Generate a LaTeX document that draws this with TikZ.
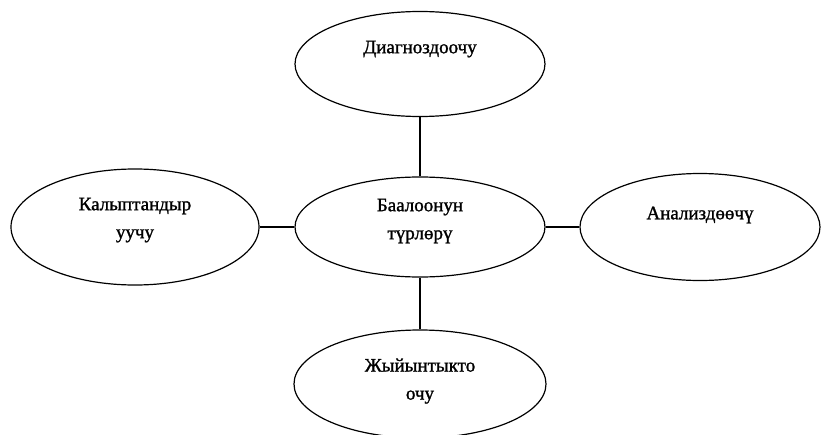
\documentclass[tikz,border=0pt]{standalone}
\usepackage{fontspec}
\setmainfont{Liberation Serif}[FakeBold=1.3]
\usetikzlibrary{shapes,arrows}
\tikzstyle{bubble} = [ellipse, draw, line width=1.2pt, inner sep=0pt,
    align=center, font=\fontsize{19}{28}\selectfont]
\tikzstyle{line} = [draw, line width=1.2pt]

\begin{document}
\begin{tikzpicture}[x=1pt, y=1pt, node distance = 160pt, auto]
  \useasboundingbox (-420,227) rectangle (401,-207);
    % Place nodes
    \node [bubble, minimum width=250pt, minimum height=100pt] (types) {Баалоонун\\түрлөрү\\[-12pt]~};
    \node [bubble, above of=types, node distance=163pt, minimum width=250pt, minimum height=105pt] (diag) {Диагноздоочу\\[6pt]~};
    \node [bubble, left of=types, node distance=285pt, minimum width=248pt, minimum height=116pt] (norm) {Калыптандыр\\уучу\\[-10pt]~};
    \node [bubble, right of=types, node distance=280pt, minimum width=240pt, minimum height=107pt] (anal) {Анализдөөчү\\[0pt]~};
    \node [bubble, below of=types, node distance=157pt, minimum width=252pt, minimum height=108pt] (summ) {Жыйынтыкто\\очу\\[-18pt]~};

    % Draw edges
    \path [line] (types) -- (diag);
    \path [line] (types) -- (norm);
    \path [line] (types) -- (anal);
    \path [line] (types) -- (summ);
\end{tikzpicture}
\end{document}
